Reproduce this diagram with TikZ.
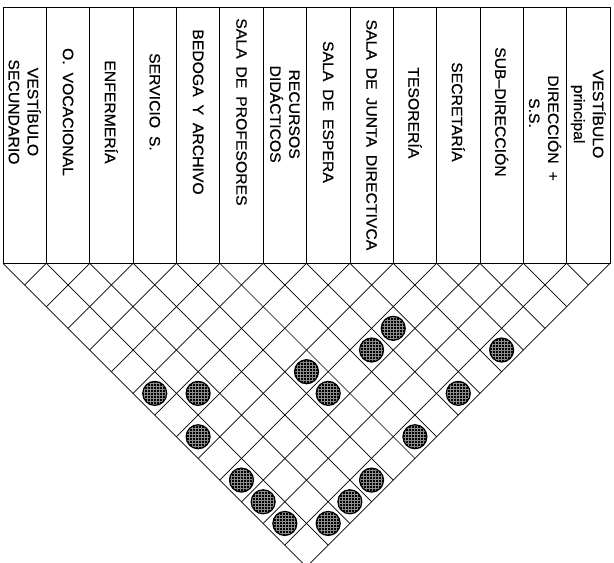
\documentclass[tikz,border=0pt]{standalone}
\usepackage{fontspec}
\newfontfamily\planfont[FakeStretch=1.05,WordSpace=1.8,FakeBold=0.6]{Liberation Sans}
\usetikzlibrary{patterns}

\begin{document}
\begin{tikzpicture}[x=43.36pt,y=43.36pt]
\tikzset{room/.style = {rotate=-90,align=center,inner sep=0pt,font=\planfont\fontsize{15pt}{19pt}\selectfont},
relation/.style = {shape=circle,draw,line width=1.2pt,minimum size=24pt,inner sep=0pt,preaction={fill=black},pattern=grid,pattern color=black!45}}
\useasboundingbox (-3pt,-299.7pt) rectangle (611pt,263.3pt);
% table
\draw[line width=0.9pt] (0,0) rectangle (14,5.911);
\foreach \k in {1,...,13} \draw[line width=0.7pt] (\k,0) -- (\k,5.911);
% matrix
\foreach \k in {0,...,14} {
  \draw[line width=0.7pt] (\k,0) -- ({(\k+14)/2},{-(14-\k)/2});
  \draw[line width=0.7pt] (\k,0) -- ({\k/2},{-\k/2});
}
% spaces
\node[room] (s1) at (0.5,3.49) {VESTÍBULO\\SECUNDARIO};
\node[room] (s2) at (1.5,3.49) {O. VOCACIONAL};
\node[room] (s3) at (2.5,3.49) {ENFERMERÍA};
\node[room] (s4) at (3.5,3.72) {SERVICIO S.};
\node[room] (s5) at (4.5,3.49) {BEDOGA Y ARCHIVO};
\node[room] (s6) at (5.5,3.49) {SALA DE PROFESORES};
\node[room] (s7) at (6.5,3.44) {RECURSOS\\DIDÁCTICOS};
\node[room] (s8) at (7.5,3.49) {SALA DE ESPERA};
\node[room] (s9) at (8.5,2.96) {SALA DE JUNTA DIRECTIVCA};
\node[room] (s10) at (9.5,3.47) {TESORERÍA};
\node[room] (s11) at (10.5,3.49) {SECRETARÍA};
\node[room] (s12) at (11.5,3.49) {SUB–DIRECCIÓN};
\node[room] (s13) at (12.5,3.12) {DIRECCIÓN +\\S.S.\hspace*{30pt}};
\node[room] (s14) at (13.5,3.44) {VESTÍBULO\\principal};

% relations
\node[relation] (r1-7) at (3.5,-3) {};
\node[relation] (r2-8) at (4.5,-3) {};
\node[relation] (r1-9) at (4.5,-4) {};
\node[relation] (r1-11) at (5.5,-5) {};
\node[relation] (r1-12) at (6,-5.5) {};
\node[relation] (r1-13) at (6.5,-6) {};
\node[relation] (r5-10) at (7,-2.5) {};
\node[relation] (r8-11) at (9,-1.5) {};
\node[relation] (r7-11) at (8.5,-2) {};
\node[relation] (r5-11) at (7.5,-3) {};
\node[relation] (r10-14) at (11.5,-2) {};
\node[relation] (r8-14) at (10.5,-3) {};
\node[relation] (r6-14) at (9.5,-4) {};
\node[relation] (r4-14) at (8.5,-5) {};
\node[relation] (r3-14) at (8,-5.5) {};
\node[relation] (r2-14) at (7.5,-6) {};
\end{tikzpicture}
\end{document}
